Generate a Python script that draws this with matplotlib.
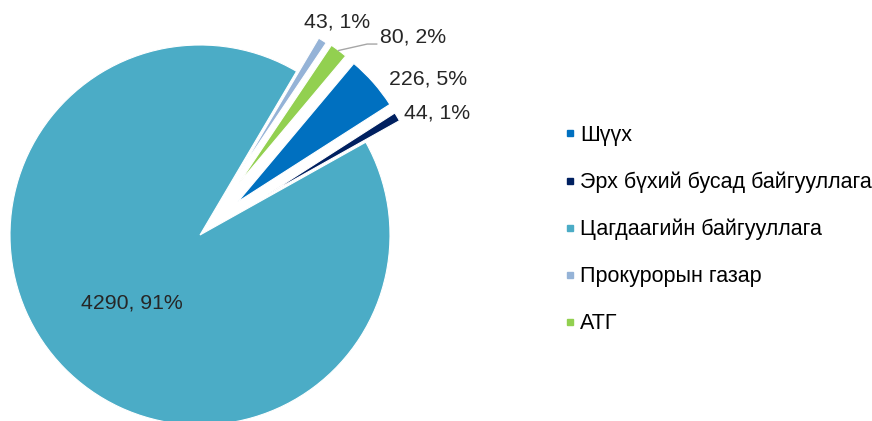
import numpy as np
from matplotlib import pyplot as plt
from matplotlib.lines import Line2D

plt.rcParams['font.family'] = ['Liberation Sans', 'DejaVu Sans']

# data
categories = ['Шүүх', 'Эрх бүхий бусад байгууллага', 'Цагдаагийн байгууллага',
              'Прокурорын газар', 'АТГ']
counts = [226, 44, 4290, 43, 80]
percents = [5, 1, 91, 1, 2]

colors = ['#0070C0', '#002060', '#4BACC6', '#95B3D7', '#92D050']
# offset of each slice's tip from the centre and its radius (pie units)
offsets = [0.265, 0.41, 0.0, 0.40, 0.34]
radii = [0.95, 0.80, 1.0, 0.81, 0.875]
# label centres in pie units
label_pos = [(1.2, 0.82), (1.25, 0.64), (-0.36, -0.36), (0.72, 1.12), (1.12, 1.04)]

fig = plt.figure(figsize=(8.72, 4.21), dpi=100)
W, H = 872, 421
cx, cy, r = 200, 235, 190
ax = fig.add_axes([(cx - r) / W, (H - cy - r) / H, 2 * r / W, 2 * r / H])

wedges, _ = ax.pie(counts, colors=colors, startangle=50, counterclock=False,
                   radius=1, wedgeprops=dict(linewidth=0.8, edgecolor='white'))
for w, d, rr in zip(wedges, offsets, radii):
    mid = np.radians((w.theta1 + w.theta2) / 2)
    w.set_center((d * np.cos(mid), d * np.sin(mid)))
    w.set_radius(rr)
ax.set_xlim(-1, 1)
ax.set_ylim(-1, 1)
ax.set_aspect('equal')
ax.axis('off')

for i in range(len(counts)):
    txt = '{}, {}%'.format(counts[i], percents[i])
    ax.text(label_pos[i][0], label_pos[i][1], txt, ha='center', va='center',
            fontsize=15.3, color='#262626', clip_on=False)

# leader line for АТГ
w = wedges[4]
mid = np.radians((w.theta1 + w.theta2) / 2)
ox, oy = w.center
px, py = ox + w.r * np.cos(mid), oy + w.r * np.sin(mid)
ax.plot([px, 0.88, 0.93], [py, 1.005, 1.005], color='#A6A6A6', lw=1, clip_on=False)

handles = [Line2D([0], [0], marker='s', color='none', markerfacecolor=c,
                  markeredgecolor=c, markersize=5) for c in colors]
fig.legend(handles, categories, loc='upper left', bbox_to_anchor=(553 / W, 1 - 114 / H),
           frameon=False, fontsize=15.5, handlelength=0.6, handletextpad=0.15,
           labelspacing=1.2, borderpad=0)

plt.savefig('out.png', dpi=100)
